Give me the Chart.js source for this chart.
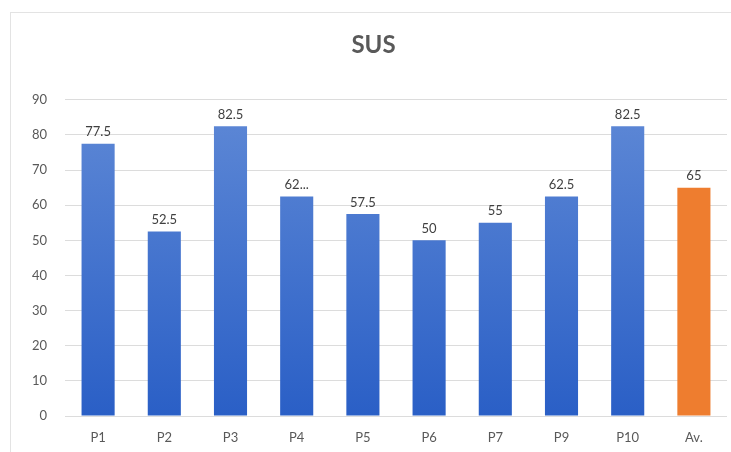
<!DOCTYPE html>
<html>
<head>
<meta charset="utf-8">
<script src="https://cdn.jsdelivr.net/npm/chart.js@4"></script>
<style>
  html, body { margin: 0; padding: 0; background: #fff; }
  #wrap { position: relative; width: 731px; height: 452px; overflow: hidden; }
  #frame { position: absolute; left: 10px; top: 12px; width: 740px; height: 460px; border: 1px solid #e3e3e3; }
  #sus { position: absolute; left: 0; top: 0; }
</style>
</head>
<body>
<div id="wrap">
  <div id="frame"></div>
  <canvas id="sus" width="731" height="452"></canvas>
</div>
<script>
// data of the SUS chart
const categories = ["P1", "P2", "P3", "P4", "P5", "P6", "P7", "P9", "P10", "Av."];
const susScores = [77.5, 52.5, 82.5, 62.5, 57.5, 50, 55, 62.5, 82.5, 65];
const valueLabels = ["77.5", "52.5", "82.5", "62...", "57.5", "50", "55", "62.5", "82.5", "65"];
const yTicks = [0, 10, 20, 30, 40, 50, 60, 70, 80, 90];

const fontName = "Lato, 'Open Sans', sans-serif";
const textColor = '#595959';

// blue gradient for the participants, orange for the average
function barColor(c) {
    if (c.dataIndex === categories.length - 1) return '#ee7d2f';
    const area = c.chart.chartArea;
    if (!area) return '#3a6cc9';
    const g = c.chart.ctx.createLinearGradient(0, area.top, 0, area.bottom);
    g.addColorStop(0, '#5f89d6');
    g.addColorStop(1, '#2a5fc6');
    return g;
}

// value labels above the bars
const valueLabelPlugin = {
    id: 'valueLabels',
    afterDatasetsDraw(chart) {
        const ctx = chart.ctx;
        const meta = chart.getDatasetMeta(0);
        ctx.save();
        ctx.font = '13px ' + fontName;
        ctx.fillStyle = '#404040';
        ctx.textAlign = 'center';
        ctx.textBaseline = 'bottom';
        meta.data.forEach((bar, i) => {
            ctx.fillText(valueLabels[i], bar.x, bar.y - 5);
        });
        ctx.restore();
    }
};

let susCtx = document.getElementById("sus");
let susConfig = {
    type: 'bar',
    data: {
        labels: categories,
        datasets: [{
            data: susScores,
            backgroundColor: barColor,
            borderWidth: 0,
            categoryPercentage: 1,
            barPercentage: 0.5,
        }]
    },
    options: {
        responsive: false,
        animation: false,
        layout: { padding: { left: 20, right: 4, top: 12, bottom: 7 } },
        plugins: {
            legend: { display: false },
            tooltip: { enabled: false },
            title: {
                display: true,
                text: 'SUS',
                color: textColor,
                font: { family: fontName, size: 24, weight: 'bold' },
                padding: { top: 19, bottom: 40 },
            },
        },
        scales: {
            x: {
                afterFit: axis => { axis.height = 29; },
                grid: { display: false },
                border: { display: false },
                ticks: { color: textColor, font: { family: fontName, size: 13 }, padding: 6 },
            },
            y: {
                min: 0,
                max: 90,
                afterBuildTicks: axis => { axis.ticks = yTicks.map(v => ({ value: v })); },
                afterFit: axis => { axis.width = 45; },
                grid: { color: '#dcdcdc', drawTicks: false },
                border: { display: false },
                ticks: { color: textColor, font: { family: fontName, size: 13 }, padding: 18 },
            }
        }
    },
    plugins: [valueLabelPlugin]
};
let susChart = new Chart(susCtx, susConfig);
</script>
</body>
</html>
